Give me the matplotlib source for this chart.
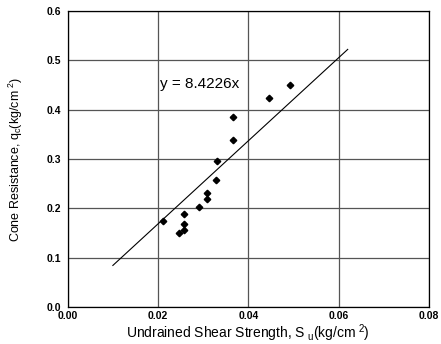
import numpy as np
import matplotlib
matplotlib.use("Agg")
from matplotlib import pyplot as plt

# data
su = [0.0212, 0.0246, 0.0258, 0.0258, 0.0258, 0.0290, 0.0308, 0.0308,
      0.0329, 0.0331, 0.0366, 0.0366, 0.0445, 0.0493]
qc = [0.175, 0.150, 0.189, 0.169, 0.157, 0.202, 0.232, 0.219,
      0.258, 0.296, 0.338, 0.386, 0.424, 0.450]
slope = 8.4226
fitRange = [0.010, 0.062]

xTicks = [0.00, 0.02, 0.04, 0.06, 0.08]
yTicks = [0.0, 0.1, 0.2, 0.3, 0.4, 0.5, 0.6]

plt.rcParams['font.family'] = ['Liberation Sans', 'DejaVu Sans']

fig = plt.figure(figsize=(4.41, 3.44), dpi=100)
ax = fig.add_axes([0.1535, 0.1076, 0.8193, 0.8604])

ax.grid(True, color='#555555', linewidth=0.9)
ax.set_axisbelow(True)

xf = np.array(fitRange)
ax.plot(xf, slope * xf, color='black', linewidth=0.8)
ax.plot(su, qc, linestyle='none', marker='D', markersize=3.3, color='black')

ax.text(0.0204, 0.452, "y = 8.4226x", fontsize=11, va='center', ha='left')

ax.set_xlim(0, 0.08)
ax.set_ylim(0, 0.6)
ax.set_xticks(xTicks)
ax.set_yticks(yTicks)
ax.set_xticklabels(["%.2f" % v for v in xTicks], fontsize=7.5, fontweight='bold')
ax.set_yticklabels(["%.1f" % v for v in yTicks], fontsize=7.5, fontweight='bold')
ax.tick_params(axis='y', length=0, pad=5)
ax.tick_params(axis='x', length=0, pad=3)
for s in ax.spines.values():
    s.set_linewidth(0.9)

ax.set_xlabel(r"Undrained Shear Strength, S$_{\ \mathregular{u}}$(kg/cm$^{\ \mathregular{2}}$)", fontsize=10, labelpad=1)
ax.set_ylabel(r"Cone Resistance, q$_{\mathregular{c}}$(kg/cm$^{\ \mathregular{2}}$)", fontsize=9, labelpad=15)

fig.savefig("out.png", dpi=100)
